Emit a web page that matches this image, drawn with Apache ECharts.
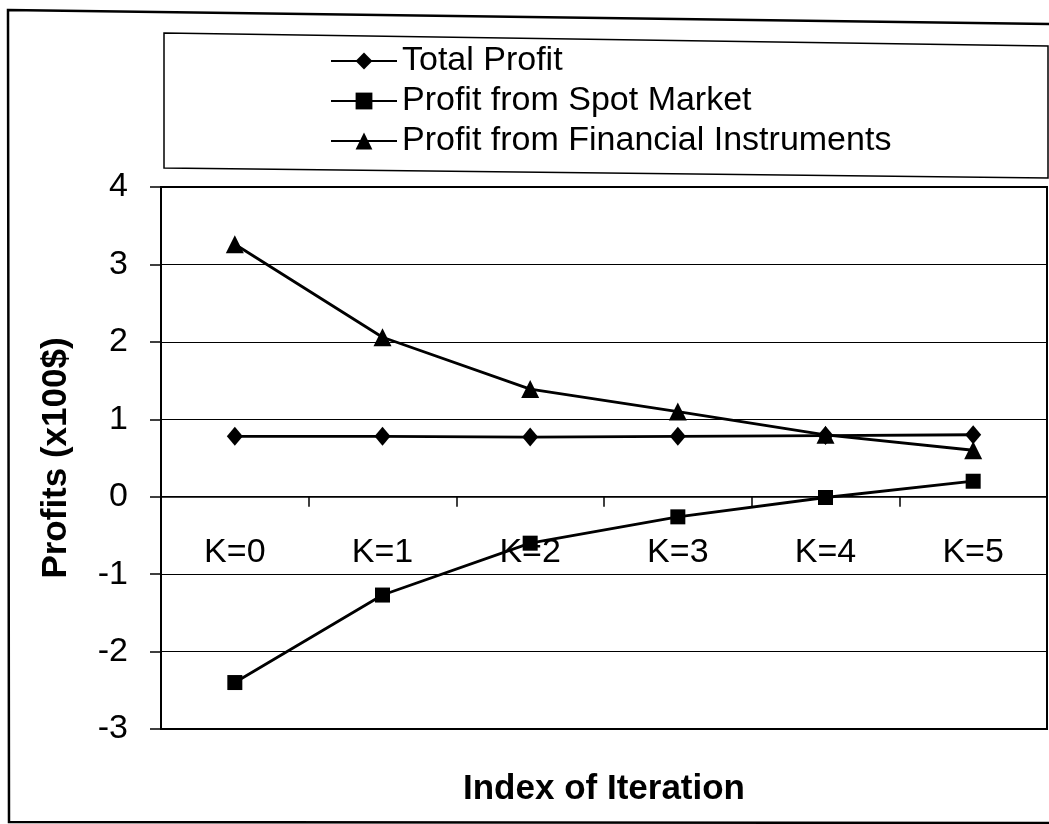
<!DOCTYPE html>
<html>
<head>
<meta charset="utf-8">
<title>Profits by iteration</title>
<script src="https://cdn.jsdelivr.net/npm/echarts@6/dist/echarts.min.js"></script>
<style>
  html, body { margin: 0; padding: 0; background: #fff; }
  #chart { width: 1049px; height: 824px; }
</style>
</head>
<body>
<div id="chart"></div>
<script>
// Iteration index labels
const categories = ['K=0', 'K=1', 'K=2', 'K=3', 'K=4', 'K=5'];

// Profits in hundreds of dollars
const totalProfit = [0.78, 0.78, 0.77, 0.78, 0.79, 0.80];
const spotProfit = [-2.40, -1.27, -0.60, -0.26, -0.01, 0.20];
const financialProfit = [3.26, 2.06, 1.39, 1.10, 0.80, 0.60];

// Value axis range
const yMin = -3;
const yMax = 4;
const yStep = 1;

const seriesNames = ['Total Profit', 'Profit from Spot Market', 'Profit from Financial Instruments'];

const FONT = 'Liberation Sans, Arial, sans-serif';

const chart = echarts.init(document.getElementById('chart'), null, { renderer: 'canvas' });

function lineSeries(name, data, symbol, size) {
  return {
    name: name,
    type: 'line',
    data: data,
    symbol: symbol,
    symbolSize: size,
    showSymbol: true,
    lineStyle: { color: '#000', width: 2.8 },
    itemStyle: { color: '#000' },
    z: 5
  };
}

chart.setOption({
  animation: false,
  backgroundColor: '#fff',
  textStyle: { fontFamily: FONT, color: '#000' },
  graphic: [
    {
      // outer frame
      type: 'polygon',
      shape: { points: [[8, 10], [1054, 24], [1054, 823], [9, 822]] },
      style: { fill: 'none', stroke: '#000', lineWidth: 2.5 },
      z: -10
    },
    {
      // legend box
      type: 'polygon',
      shape: { points: [[164, 33], [1048, 46], [1048, 178], [164, 168]] },
      style: { fill: 'none', stroke: '#000', lineWidth: 1.5 },
      z: -10
    }
  ],
  legend: {
    orient: 'vertical',
    left: 330,
    top: 44,
    padding: 0,
    itemWidth: 66,
    itemHeight: 21,
    itemGap: 6,
    data: seriesNames,
    textStyle: { fontSize: 34, lineHeight: 34, color: '#000', fontFamily: FONT },
    inactiveColor: '#000'
  },
  grid: {
    left: 161,
    top: 187,
    width: 886,
    height: 542,
    containLabel: false,
    outerBoundsMode: 'none',
    show: true,
    borderColor: '#000',
    borderWidth: 2,
    backgroundColor: 'transparent'
  },
  xAxis: {
    type: 'category',
    data: categories,
    boundaryGap: true,
    axisLine: { show: true, onZero: true, lineStyle: { color: '#000', width: 1.5 } },
    axisTick: { show: true, length: 10, lineStyle: { color: '#000', width: 1.5 } },
    // labels sit just under the zero line, inside the plot
    axisLabel: { margin: -193, fontSize: 34, color: '#000', fontFamily: FONT },
    splitLine: { show: false },
    name: 'Index of Iteration',
    nameLocation: 'middle',
    nameGap: 60,
    nameTextStyle: { fontSize: 35, fontWeight: 'bold', color: '#000', fontFamily: FONT, verticalAlign: 'middle' }
  },
  yAxis: {
    type: 'value',
    min: yMin,
    max: yMax,
    interval: yStep,
    axisLine: { show: true, onZero: false, lineStyle: { color: '#000', width: 2 } },
    axisTick: { show: true, length: 11, lineStyle: { color: '#000', width: 1.5 } },
    axisLabel: { margin: 33, fontSize: 34, color: '#000', fontFamily: FONT },
    splitLine: { show: true, lineStyle: { color: '#000', width: 1 } },
    name: 'Profits (x100$)',
    nameLocation: 'middle',
    nameRotate: 90,
    nameGap: 105,
    nameTextStyle: { fontSize: 35, fontWeight: 'bold', color: '#000', fontFamily: FONT, verticalAlign: 'middle' }
  },
  series: [
    lineSeries(seriesNames[0], totalProfit, 'diamond', [16, 19]),
    lineSeries(seriesNames[1], spotProfit, 'rect', 15),
    lineSeries(seriesNames[2], financialProfit, 'triangle', 18)
  ]
});
</script>
</body>
</html>
